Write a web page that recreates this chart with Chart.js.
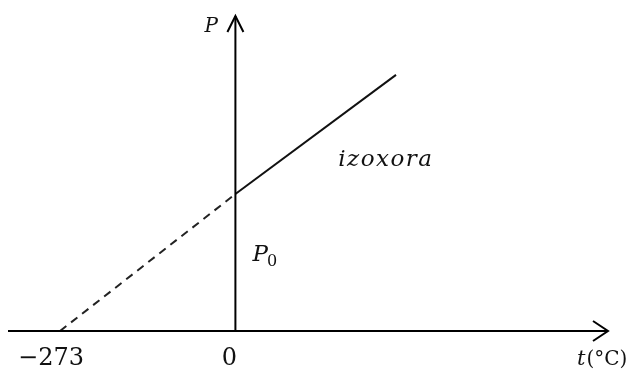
<!DOCTYPE html>
<html>
<head>
<meta charset="utf-8">
<script src="https://cdn.jsdelivr.net/npm/chart.js@4.4.1/dist/chart.umd.min.js"></script>
<style>
  html, body { margin: 0; padding: 0; background: #ffffff; }
  #wrap { width: 629px; height: 373px; position: relative; }
</style>
</head>
<body>
<div id="wrap"><canvas id="c" width="629" height="373"></canvas></div>
<script>
// Data (t in °C, P in units of P0)
const extrapolatedT = [-273, 0];
const extrapolatedP = [0, 1];
const isochoreT = [0, 250];
const isochoreP = [1, 1.87];
const xTickValues = [-273, 0];
const xTickLabels = ['\u2212273', '0'];
const axisXTitle = ['t', '(\u00B0C)'];
const axisYTitle = 'P';
const lineLabel = 'izoxora';
const interceptLabel = ['P', '0'];

const toPoints = (xs, ys) => xs.map((x, i) => ({ x: x, y: ys[i] }));

const SERIF = '"DejaVu Serif", "Liberation Serif", serif';

const axesPlugin = {
  id: 'axesPlugin',
  afterDatasetsDraw(chart) {
    const ctx = chart.ctx;
    const xs = chart.scales.x, ys = chart.scales.y;
    const area = chart.chartArea;
    const x0 = xs.getPixelForValue(0);
    const y0 = ys.getPixelForValue(0);
    ctx.save();
    ctx.strokeStyle = '#000';
    ctx.fillStyle = '#111';
    ctx.lineWidth = 2;
    ctx.lineCap = 'butt';
    // x axis
    ctx.beginPath();
    ctx.moveTo(area.left, y0);
    ctx.lineTo(area.right, y0);
    ctx.stroke();
    // y axis
    ctx.beginPath();
    ctx.moveTo(x0, y0);
    ctx.lineTo(x0, area.top);
    ctx.stroke();
    // arrowheads (open chevrons)
    ctx.lineJoin = 'miter';
    ctx.beginPath();
    ctx.moveTo(area.right - 15, y0 - 10);
    ctx.lineTo(area.right, y0);
    ctx.lineTo(area.right - 15, y0 + 10);
    ctx.stroke();
    ctx.beginPath();
    ctx.moveTo(x0 - 8, area.top + 16);
    ctx.lineTo(x0, area.top);
    ctx.lineTo(x0 + 8, area.top + 16);
    ctx.stroke();

    // tick labels
    ctx.font = '24px ' + SERIF;
    ctx.textAlign = 'center';
    ctx.textBaseline = 'alphabetic';
    xTickValues.forEach((v, i) => {
      const px = xs.getPixelForValue(v);
      const off = i === 0 ? -9 : -6;
      ctx.fillText(xTickLabels[i], px + off, y0 + 34);
    });

    // axis titles
    ctx.textAlign = 'left';
    ctx.font = 'italic 21px ' + SERIF;
    const tx = area.right - 31;
    ctx.fillText(axisXTitle[0], tx, y0 + 34);
    const tw = ctx.measureText(axisXTitle[0]).width;
    ctx.font = '20px ' + SERIF;
    ctx.fillText(axisXTitle[1], tx + tw + 1, y0 + 34);

    ctx.font = 'italic 20px ' + SERIF;
    ctx.fillText(axisYTitle, x0 - 31, area.top + 16);

    // line label
    ctx.font = 'italic 23px ' + SERIF;
    ctx.letterSpacing = '1.5px';
    ctx.fillText(lineLabel, xs.getPixelForValue(160), ys.getPixelForValue(1.205));
    ctx.letterSpacing = '0px';

    // P0 label
    const lx = x0 + 17, ly = ys.getPixelForValue(0.51);
    ctx.font = 'italic 23px ' + SERIF;
    ctx.fillText(interceptLabel[0], lx, ly);
    const pw = ctx.measureText(interceptLabel[0]).width;
    ctx.font = '16px ' + SERIF;
    ctx.fillText(interceptLabel[1], lx + pw - 1, ly + 5);
    ctx.restore();
  }
};

new Chart(document.getElementById('c'), {
  type: 'line',
  data: {
    datasets: [
      {
        label: 'extrapolated',
        data: toPoints(extrapolatedT, extrapolatedP),
        borderColor: '#222',
        borderWidth: 2,
        borderDash: [8, 6],
        pointRadius: 0,
        fill: false,
        tension: 0
      },
      {
        label: 'izoxora',
        data: toPoints(isochoreT, isochoreP),
        borderColor: '#111',
        borderWidth: 2,
        pointRadius: 0,
        fill: false,
        tension: 0
      }
    ]
  },
  options: {
    responsive: false,
    animation: false,
    devicePixelRatio: 1,
    layout: { padding: { left: 8, right: 21, top: 16, bottom: 42 } },
    plugins: { legend: { display: false }, tooltip: { enabled: false } },
    scales: {
      x: { type: 'linear', min: -354, max: 580, display: false },
      y: { type: 'linear', min: 0, max: 2.3, display: false }
    }
  },
  plugins: [axesPlugin]
});
</script>
</body>
</html>
